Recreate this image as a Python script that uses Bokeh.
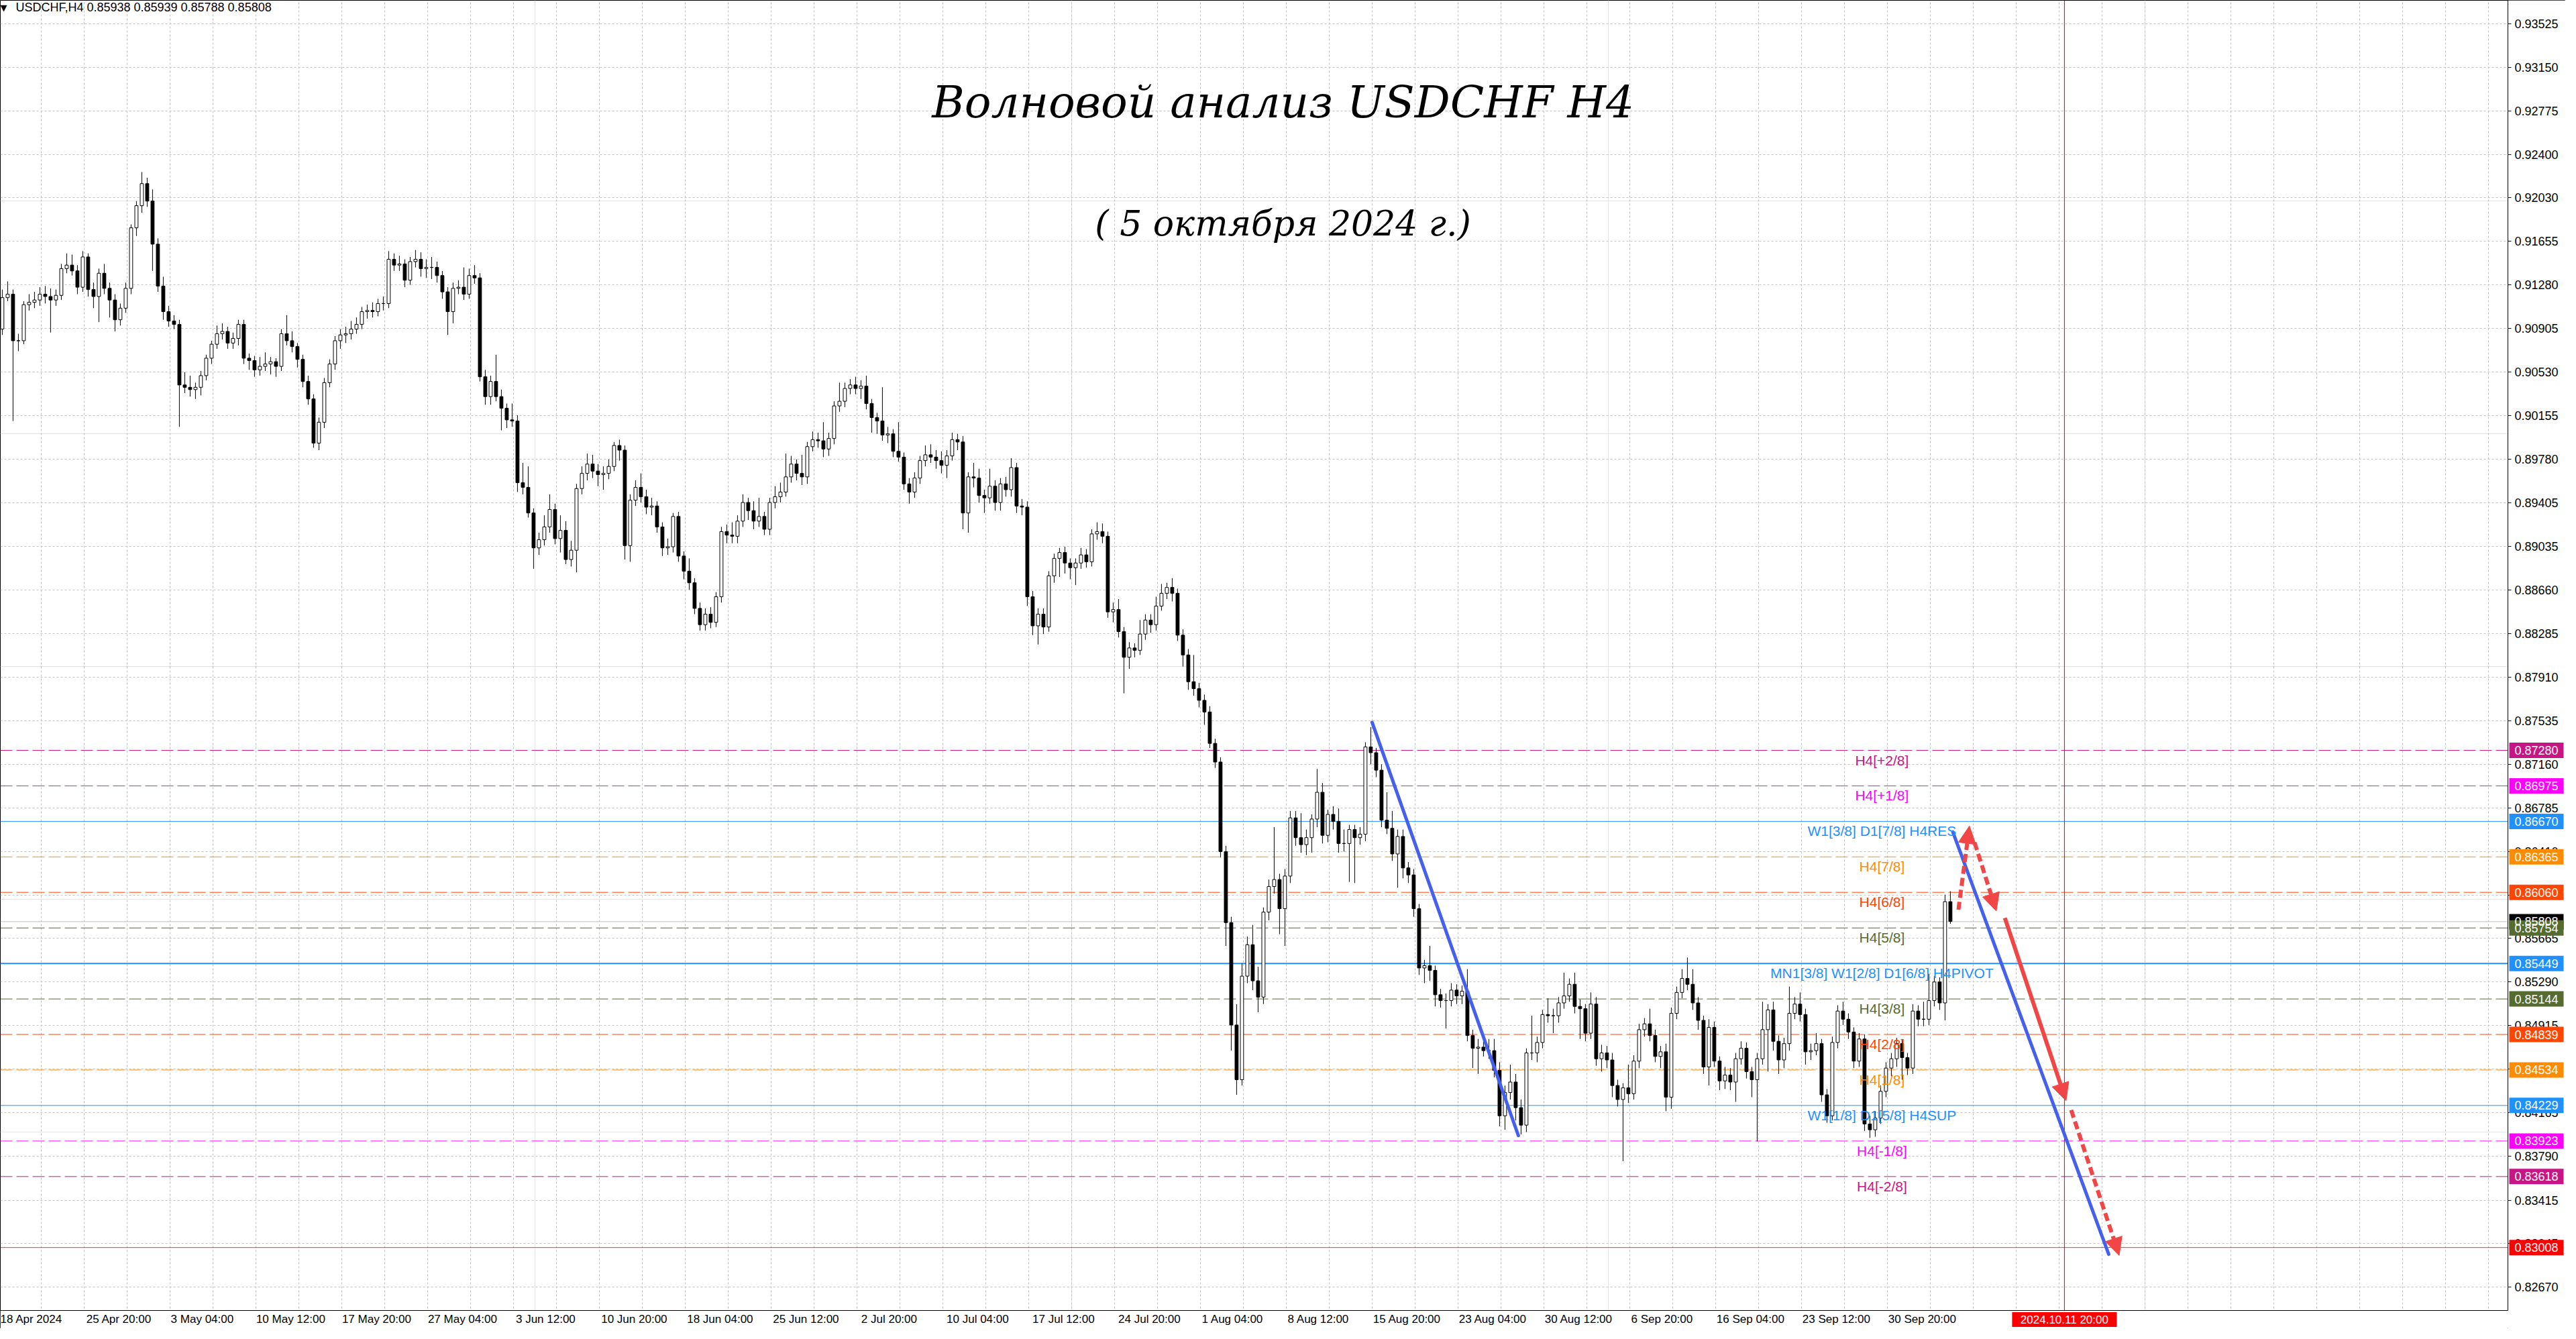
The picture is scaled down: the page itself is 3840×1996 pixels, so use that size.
from bokeh.plotting import figure
from bokeh.models import (Range1d, FixedTicker, NumeralTickFormatter, Label, LinearAxis, Grid,
                          Arrow, NormalHead, ColumnDataSource, CustomJSTickFormatter)
from bokeh.core.properties import value
from bokeh.embed import file_html
from bokeh.resources import INLINE

# ---------------- data (prices in 1/10000) ----------------
PIP = 10000.0
first_open = 9090
closes = [
    9117, 9120, 9080, 9080, 9111, 9113, 9115, 9120, 9118, 9115,
    9119, 9142, 9145, 9140, 9126, 9152, 9124, 9118, 9138, 9125,
    9115, 9098, 9108, 9125, 9177, 9196, 9215, 9200, 9163, 9127,
    9105, 9097, 9094, 9042, 9040, 9038, 9040, 9050, 9065, 9077,
    9086, 9088, 9078, 9082, 9094, 9065, 9063, 9055, 9058, 9060,
    9062, 9058, 9086, 9080, 9075, 9064, 9045, 9030, 8992, 9010,
    9044, 9060, 9080, 9085, 9086, 9090, 9094, 9105, 9106, 9105,
    9112, 9112, 9150, 9145, 9146, 9132, 9148, 9150, 9142, 9143,
    9143, 9136, 9122, 9105, 9125, 9126, 9120, 9136, 9134, 9049,
    9032, 9045, 9032, 9022, 9012, 9011, 8958, 8954, 8932, 8902,
    8909, 8920, 8935, 8910, 8917, 8892, 8900, 8953, 8966, 8974,
    8968, 8965, 8966, 8972, 8990, 8986, 8904, 8943, 8954, 8946,
    8937, 8938, 8920, 8902, 8903, 8929, 8895, 8882, 8872, 8850,
    8836, 8845, 8838, 8860, 8916, 8913, 8912, 8925, 8941, 8934,
    8925, 8929, 8918, 8941, 8946, 8950, 8963, 8974, 8966, 8963,
    8989, 8995, 8994, 8987, 8996, 9024, 9028, 9039, 9042, 9039,
    9041, 9026, 9014, 9011, 8999, 9000, 8985, 8980, 8957, 8950,
    8962, 8977, 8982, 8980, 8977, 8973, 8981, 8995, 8993, 8932,
    8963, 8962, 8947, 8945, 8955, 8941, 8957, 8952, 8971, 8938,
    8937, 8860, 8835, 8845, 8834, 8878, 8893, 8898, 8889, 8885,
    8889, 8896, 8890, 8914, 8916, 8912, 8847, 8849, 8830, 8808,
    8816, 8814, 8828, 8840, 8836, 8852, 8863, 8868, 8863, 8827,
    8810, 8787, 8781, 8771, 8761, 8734, 8718, 8641, 8580, 8492,
    8445, 8534, 8561, 8530, 8516, 8589, 8611, 8617, 8592, 8620,
    8670, 8653, 8647, 8653, 8669, 8692, 8655, 8673, 8667, 8648,
    8648, 8660, 8653, 8656, 8731, 8726, 8711, 8668, 8661, 8639,
    8654, 8627, 8621, 8592, 8541, 8543, 8539, 8518, 8513, 8513,
    8522, 8517, 8521, 8483, 8472, 8473, 8470, 8470, 8453, 8414,
    8434, 8443, 8421, 8406, 8468, 8468, 8477, 8501, 8500, 8500,
    8511, 8517, 8527, 8508, 8506, 8485, 8510, 8463, 8468, 8462,
    8440, 8428, 8438, 8433, 8461, 8488, 8493, 8483, 8465, 8469,
    8430, 8502, 8520, 8532, 8527, 8511, 8496, 8456, 8490, 8461,
    8444, 8449, 8443, 8463, 8472, 8452, 8445, 8463, 8488, 8505,
    8478, 8462, 8476, 8502, 8510, 8501, 8469, 8470, 8476, 8432,
    8414, 8477, 8504, 8497, 8486, 8461, 8480, 8407, 8402, 8412,
    8435, 8455, 8463, 8476, 8464, 8455, 8504, 8497, 8497, 8513,
    8529, 8511, 8598, 8581,
]
highs = [
    9124, 9131, 9124, 9086, 9114, 9120, 9122, 9126, 9127, 9125,
    9124, 9146, 9155, 9154, 9145, 9157, 9155, 9130, 9142, 9146,
    9130, 9120, 9112, 9130, 9180, 9200, 9225, 9220, 9210, 9168,
    9135, 9110, 9102, 9098, 9053, 9050, 9044, 9054, 9068, 9080,
    9093, 9095, 9092, 9087, 9098, 9098, 9069, 9067, 9066, 9070,
    9066, 9065, 9090, 9102, 9088, 9078, 9068, 9050, 9034, 9014,
    9048, 9064, 9084, 9090, 9092, 9097, 9100, 9109, 9111, 9113,
    9116, 9118, 9157, 9155, 9153, 9150, 9152, 9158, 9156, 9150,
    9152, 9148, 9140, 9126, 9130, 9132, 9143, 9142, 9145, 9138,
    9055, 9050, 9068, 9038, 9026, 9026, 9016, 8975, 8972, 8936,
    8915, 8930, 8948, 8940, 8930, 8925, 8908, 8957, 8972, 8983,
    8982, 8974, 8972, 8978, 8993, 8995, 8990, 8948, 8960, 8966,
    8952, 8945, 8942, 8924, 8910, 8932, 8933, 8899, 8893, 8876,
    8855, 8850, 8851, 8864, 8920, 8922, 8924, 8930, 8948, 8945,
    8942, 8945, 8933, 8945, 8955, 8958, 8983, 8981, 8978, 8982,
    8993, 9002, 9001, 9010, 9001, 9028, 9044, 9044, 9047, 9049,
    9046, 9050, 9030, 9018, 9040, 9006, 9004, 9010, 8984, 8962,
    8967, 8981, 8990, 8991, 8986, 8985, 8986, 9001, 9000, 8998,
    8967, 8975, 8970, 8952, 8970, 8960, 8962, 8963, 8979, 8975,
    8944, 8942, 8865, 8850, 8850, 8882, 8897, 8902, 8903, 8893,
    8893, 8902, 8901, 8918, 8924, 8923, 8916, 8855, 8858, 8834,
    8821, 8820, 8840, 8845, 8845, 8860, 8871, 8872, 8876, 8867,
    8832, 8815, 8810, 8786, 8776, 8766, 8738, 8722, 8646, 8585,
    8510, 8545, 8568, 8578, 8542, 8593, 8617, 8662, 8622, 8626,
    8676, 8676, 8674, 8660, 8673, 8712, 8700, 8677, 8680, 8678,
    8660, 8664, 8664, 8662, 8735, 8748, 8730, 8716, 8692, 8676,
    8660, 8660, 8632, 8626, 8596, 8548, 8560, 8543, 8523, 8519,
    8528, 8527, 8526, 8540, 8488, 8480, 8478, 8480, 8480, 8460,
    8440, 8458, 8450, 8428, 8472, 8500, 8482, 8505, 8515, 8506,
    8516, 8537, 8532, 8537, 8514, 8510, 8520, 8516, 8475, 8474,
    8468, 8445, 8442, 8458, 8466, 8493, 8498, 8506, 8488, 8474,
    8476, 8507, 8525, 8540, 8550, 8540, 8516, 8500, 8497, 8495,
    8465, 8456, 8455, 8468, 8478, 8477, 8456, 8468, 8512, 8510,
    8512, 8483, 8481, 8525, 8516, 8520, 8506, 8476, 8485, 8480,
    8437, 8482, 8509, 8512, 8502, 8490, 8485, 8484, 8414, 8418,
    8440, 8460, 8468, 8481, 8480, 8468, 8510, 8509, 8512, 8536,
    8534, 8533, 8604, 8607,
]
lows = [
    9085, 9114, 9011, 9071, 9077, 9106, 9108, 9110, 9112, 9087,
    9110, 9115, 9138, 9136, 9120, 9122, 9118, 9108, 9096, 9120,
    9100, 9088, 9093, 9104, 9120, 9170, 9190, 9195, 9140, 9122,
    9098, 9092, 9090, 9006, 9035, 9032, 9030, 9033, 9046, 9060,
    9073, 9081, 9073, 9073, 9076, 9060, 9055, 9049, 9050, 9054,
    9051, 9049, 9054, 9076, 9070, 9057, 9040, 9025, 8988, 8986,
    9005, 9040, 9055, 9073, 9078, 9081, 9086, 9090, 9099, 9100,
    9101, 9106, 9108, 9140, 9140, 9126, 9128, 9143, 9135, 9134,
    9133, 9130, 9116, 9085, 9095, 9120, 9115, 9116, 9129, 9045,
    9025, 9025, 9028, 9003, 9005, 9006, 8950, 8948, 8928, 8884,
    8896, 8904, 8915, 8905, 8898, 8888, 8886, 8881, 8948, 8960,
    8962, 8955, 8952, 8961, 8968, 8977, 8892, 8890, 8938, 8941,
    8931, 8930, 8915, 8895, 8896, 8898, 8890, 8875, 8866, 8845,
    8831, 8831, 8833, 8834, 8855, 8906, 8906, 8906, 8920, 8926,
    8918, 8920, 8913, 8913, 8936, 8941, 8946, 8958, 8960, 8956,
    8957, 8985, 8988, 8980, 8981, 8991, 9019, 9023, 9034, 9034,
    9030, 9021, 9001, 9000, 8994, 8992, 8980, 8976, 8952, 8940,
    8945, 8957, 8972, 8975, 8970, 8966, 8962, 8977, 8986, 8918,
    8915, 8954, 8941, 8932, 8940, 8934, 8934, 8946, 8946, 8932,
    8930, 8852, 8827, 8819, 8828, 8830, 8872, 8877, 8880, 8875,
    8870, 8884, 8885, 8886, 8909, 8906, 8842, 8838, 8825, 8777,
    8798, 8808, 8810, 8823, 8829, 8831, 8848, 8858, 8856, 8822,
    8800, 8780, 8775, 8765, 8750, 8730, 8713, 8636, 8560, 8470,
    8432, 8440, 8528, 8522, 8503, 8510, 8582, 8605, 8570, 8560,
    8614, 8646, 8640, 8638, 8640, 8662, 8648, 8649, 8660, 8640,
    8641, 8615, 8614, 8647, 8650, 8716, 8705, 8662, 8656, 8633,
    8610, 8618, 8614, 8585, 8535, 8528, 8530, 8508, 8507, 8489,
    8508, 8510, 8510, 8478, 8455, 8450, 8465, 8463, 8447, 8405,
    8402, 8428, 8410, 8398, 8400, 8462, 8460, 8472, 8494, 8485,
    8494, 8506, 8512, 8502, 8480, 8478, 8480, 8457, 8452, 8455,
    8430, 8422, 8375, 8425, 8428, 8455, 8482, 8478, 8460, 8455,
    8418, 8420, 8497, 8515, 8522, 8505, 8488, 8450, 8440, 8456,
    8436, 8437, 8436, 8426, 8458, 8446, 8430, 8392, 8458, 8452,
    8470, 8450, 8455, 8470, 8497, 8495, 8458, 8462, 8466, 8426,
    8408, 8410, 8472, 8492, 8480, 8455, 8456, 8401, 8395, 8396,
    8407, 8430, 8448, 8456, 8445, 8449, 8450, 8491, 8491, 8492,
    8508, 8505, 8496, 8579,
]

y_ticks = [0.93525, 0.93150, 0.92775, 0.92400, 0.92030, 0.91655, 0.91280, 0.90905,
           0.90530, 0.90155, 0.89780, 0.89405, 0.89035, 0.88660, 0.88285, 0.87910,
           0.87535, 0.87160, 0.86785, 0.86410, 0.86035, 0.85665, 0.85290, 0.84915,
           0.84540, 0.84165, 0.83790, 0.83415, 0.83045, 0.82670]
x_label_bars = [0, 32, 64, 96, 128, 160, 192, 224, 256, 288, 320, 352, 384, 416,
                448, 480, 512, 544, 576, 608, 640, 672, 704]
x_labels = ["18 Apr 2024", "25 Apr 20:00", "3 May 04:00", "10 May 12:00", "17 May 20:00",
            "27 May 04:00", "3 Jun 12:00", "10 Jun 20:00", "18 Jun 04:00", "25 Jun 12:00",
            "2 Jul 20:00", "10 Jul 04:00", "17 Jul 12:00", "24 Jul 20:00", "1 Aug 04:00",
            "8 Aug 12:00", "15 Aug 20:00", "23 Aug 04:00", "30 Aug 12:00", "6 Sep 20:00",
            "16 Sep 04:00", "23 Sep 12:00", "30 Sep 20:00"]

level_values = [0.87280, 0.86975, 0.86670, 0.86365, 0.86060, 0.85754, 0.85449,
                0.85144, 0.84839, 0.84534, 0.84229, 0.83923, 0.83618]
level_names = ["H4[+2/8]", "H4[+1/8]", "W1[3/8] D1[7/8] H4RES", "H4[7/8]", "H4[6/8]",
               "H4[5/8]", "MN1[3/8] W1[2/8] D1[6/8] H4PIVOT", "H4[3/8]", "H4[2/8]",
               "H4[1/8]", "W1[1/8] D1[5/8] H4SUP", "H4[-1/8]", "H4[-2/8]"]
current_price = 0.85808
target_price = 0.83008
forecast_bar = 770
forecast_label = "2024.10.11 20:00"
level_label_bar = 702

trend_lines = [([512.0, 566.5], [0.8752, 0.8397]),
               ([728.4, 786.5], [0.8658, 0.8295])]
arrows = [(730.5, 0.8591, 734.6, 0.8663, True),
          (736.5, 0.8649, 744.6, 0.8590, True),
          (747.8, 0.8584, 770.6, 0.8427, False),
          (772.5, 0.8419, 790.4, 0.8294, True)]

header = "USDCHF,H4  0.85938 0.85939 0.85788 0.85808"
title = "Волновой анализ USDCHF H4"
subtitle = "( 5 октября 2024 г.)"

# ---------------- styles / geometry ----------------
MVR, MAG, DBL, DOR, ORR, OLV = "#C71585", "#FF00FF", "#1E90FF", "#FF8C00", "#FF4500", "#556B2F"
level_colors = [MVR, MAG, DBL, DOR, ORR, OLV, DBL, OLV, ORR, DOR, DBL, MAG, MVR]
level_solid = [False, False, True, False, False, False, True, False, False, False, True, False, False]
level_width = [1, 1, 1, 1, 1, 1, 2, 1, 1, 1, 1, 1, 1]
FONT = "Liberation Sans"

W, H = 3824, 1980          # canvas; the frame fills all of it
CHART_W, CHART_H = 3738, 1953
X0 = 0.775                  # bar index at the left edge (4 px per bar)
X_END = X0 + W / 4.0
AXIS_X = X0 + CHART_W / 4.0  # price scale line
Y_TOP, Y_BOT = 0.93725, 0.82467
PX_PER_PRICE = CHART_H / (Y_TOP - Y_BOT)
Y_END = Y_TOP - H / PX_PER_PRICE

p = figure(width=W, height=H, output_backend="svg", toolbar_location=None,
           x_range=Range1d(X0, X_END), y_range=Range1d(Y_END, Y_TOP),
           x_axis_location=None, y_axis_location=None,
           min_border_left=0, min_border_right=0, min_border_top=0, min_border_bottom=0)
p.background_fill_color = "white"
p.border_fill_color = "white"
p.outline_line_color = "black"
p.outline_line_width = 1

# grid
xgrid = Grid(dimension=0, ticker=FixedTicker(ticks=list(range(0, 930, 16))))
ygrid = Grid(dimension=1, ticker=FixedTicker(ticks=y_ticks))
for g in (xgrid, ygrid):
    g.grid_line_color = "#C4C4C4"
    g.grid_line_dash = "3 3"
    g.grid_line_width = 1
    p.add_layout(g)

# white margins of the chart window (price scale and time scale areas)
p.quad(left=[AXIS_X, X0], right=[X_END, AXIS_X], bottom=[Y_END, Y_END], top=[Y_TOP, Y_BOT],
       fill_color="white", line_color=None)

# axes, fixed at the chart edges
yax = LinearAxis(fixed_location=AXIS_X, bounds=(Y_BOT, Y_TOP),
                 ticker=FixedTicker(ticks=y_ticks), formatter=NumeralTickFormatter(format="0.00000"))
yax.major_label_text_font = FONT
yax.major_label_text_font_size = "18px"
yax.major_label_text_color = "black"
yax.major_tick_out = 5
yax.major_tick_in = 0
yax.minor_tick_line_color = None
yax.major_label_standoff = 5
yax.axis_line_color = "black"
p.add_layout(yax, "right")

xt = [b + round(len(s) * 1.1 * 2) / 2.0 for b, s in zip(x_label_bars, x_labels)]
xax = LinearAxis(fixed_location=Y_BOT, bounds=(X0, AXIS_X), ticker=FixedTicker(ticks=xt))
xax.formatter = CustomJSTickFormatter(args=dict(pos=xt, labels=x_labels), code="""
    let best = 0;
    for (let j = 0; j < pos.length; j++) {
        if (Math.abs(pos[j] - tick) < Math.abs(pos[best] - tick)) best = j;
    }
    return labels[best];
""")
xax.major_label_text_font = FONT
xax.major_label_text_font_size = "17px"
xax.major_label_text_color = "black"
xax.major_tick_line_color = None
xax.major_tick_out = 0
xax.minor_tick_line_color = None
xax.major_label_standoff = 3
xax.axis_line_color = "black"
p.add_layout(xax, "below")

# level lines (up to the price scale)
for v, c, solid, w in zip(level_values, level_colors, level_solid, level_width):
    p.segment(x0=[X0], y0=[v], x1=[AXIS_X], y1=[v], line_color=c, line_width=w,
              line_dash="solid" if solid else "18 6")
p.segment(x0=[X0], y0=[current_price], x1=[AXIS_X], y1=[current_price],
          line_color="#C0C0C0", line_width=1)
p.segment(x0=[X0], y0=[target_price], x1=[AXIS_X], y1=[target_price],
          line_color="#FF3030", line_width=1)
p.segment(x0=[forecast_bar], y0=[Y_BOT], x1=[forecast_bar], y1=[Y_TOP],
          line_color="#DD0000", line_width=1)

# candles
opens = [first_open] + closes[:-1]
xs = [2 * k + 1.5 for k in range(len(closes))]
src = ColumnDataSource(dict(
    x=xs,
    high=[h / PIP for h in highs],
    low=[l / PIP for l in lows],
    top=[max(o, c) / PIP for o, c in zip(opens, closes)],
    bottom=[min(o, c) / PIP for o, c in zip(opens, closes)],
    fill=["white" if c >= o else "black" for o, c in zip(opens, closes)],
))
p.segment(x0="x", y0="low", x1="x", y1="high", source=src, line_color="black", line_width=1)
p.vbar(x="x", width=1.2, top="top", bottom="bottom", source=src,
       fill_color="fill", line_color="black", line_width=1)

# level labels
for v, name, c in zip(level_values, level_names, level_colors):
    p.add_layout(Label(x=level_label_bar, y=v, text=name, text_align="center",
                       text_baseline="top", y_offset=-3, text_color=c,
                       text_font=FONT, text_font_size="21px"))

# trend lines and arrows
for bx, by in trend_lines:
    p.line(x=bx, y=by, line_color="#4660EE", line_width=5, line_cap="round")
RED = "#F24545"
for x0, y0, x1, y1, dashed in arrows:
    p.add_layout(Arrow(end=NormalHead(size=26, fill_color=RED, line_color=RED),
                       x_start=x0, y_start=y0, x_end=x1, y_end=y1,
                       line_color=RED, line_width=6,
                       line_dash="12 6" if dashed else "solid"))

# price tags on the price scale (drawn above the scale labels)
box_values = [0.87280, 0.86975, 0.86670, 0.86365, 0.86060, current_price, 0.85754,
              0.85449, 0.85144, 0.84839, 0.84534, 0.84229, 0.83923, 0.83618, target_price]
box_colors = [MVR, MAG, DBL, DOR, ORR, "black", OLV, DBL, OLV, ORR, DOR, DBL, MAG, MVR, "#FF0000"]
tags = ColumnDataSource(dict(y=box_values, color=box_colors,
                             text=["%.5f" % v for v in box_values]))
p.rect(x=AXIS_X + 42.5 / 4.0, y="y", width=81, height=23, width_units="screen",
       height_units="screen", fill_color="color", line_color=None, source=tags, level="overlay")
p.text(x=AXIS_X + 10 / 4.0, y="y", text="text", text_align="left", text_baseline="middle",
       text_color="white", text_font=value(FONT), text_font_size="18px", source=tags,
       level="overlay")

# time tag of the vertical line
time_y = Y_BOT - 13.5 / PX_PER_PRICE
p.rect(x=[forecast_bar], y=[time_y], width=156, height=22, width_units="screen",
       height_units="screen", fill_color="#FF0000", line_color=None, level="overlay")
p.text(x=[forecast_bar], y=[time_y], text=[forecast_label], text_align="center",
       text_baseline="middle", text_color="white", text_font=value(FONT),
       text_font_size="17px", level="overlay")

# header and titles
p.add_layout(Label(x=0.8, y=0.93662, text="▼", text_align="left", text_baseline="middle",
                   text_font="DejaVu Sans", text_font_size="13px", text_color="black"))
p.add_layout(Label(x=6.5, y=0.93662, text=header, text_align="left", text_baseline="middle",
                   text_font=FONT, text_font_size="18px", text_color="black"))
p.add_layout(Label(x=478.8, y=0.92849, text=title, text_align="center", text_baseline="middle",
                   text_font="DejaVu Serif", text_font_style="italic",
                   text_font_size="66px", text_color="black"))
p.add_layout(Label(x=478.8, y=0.91811, text=subtitle, text_align="center", text_baseline="middle",
                   text_font="DejaVu Serif", text_font_style="italic",
                   text_font_size="52px", text_color="black"))

open("out.html", "w").write(file_html(p, INLINE))
